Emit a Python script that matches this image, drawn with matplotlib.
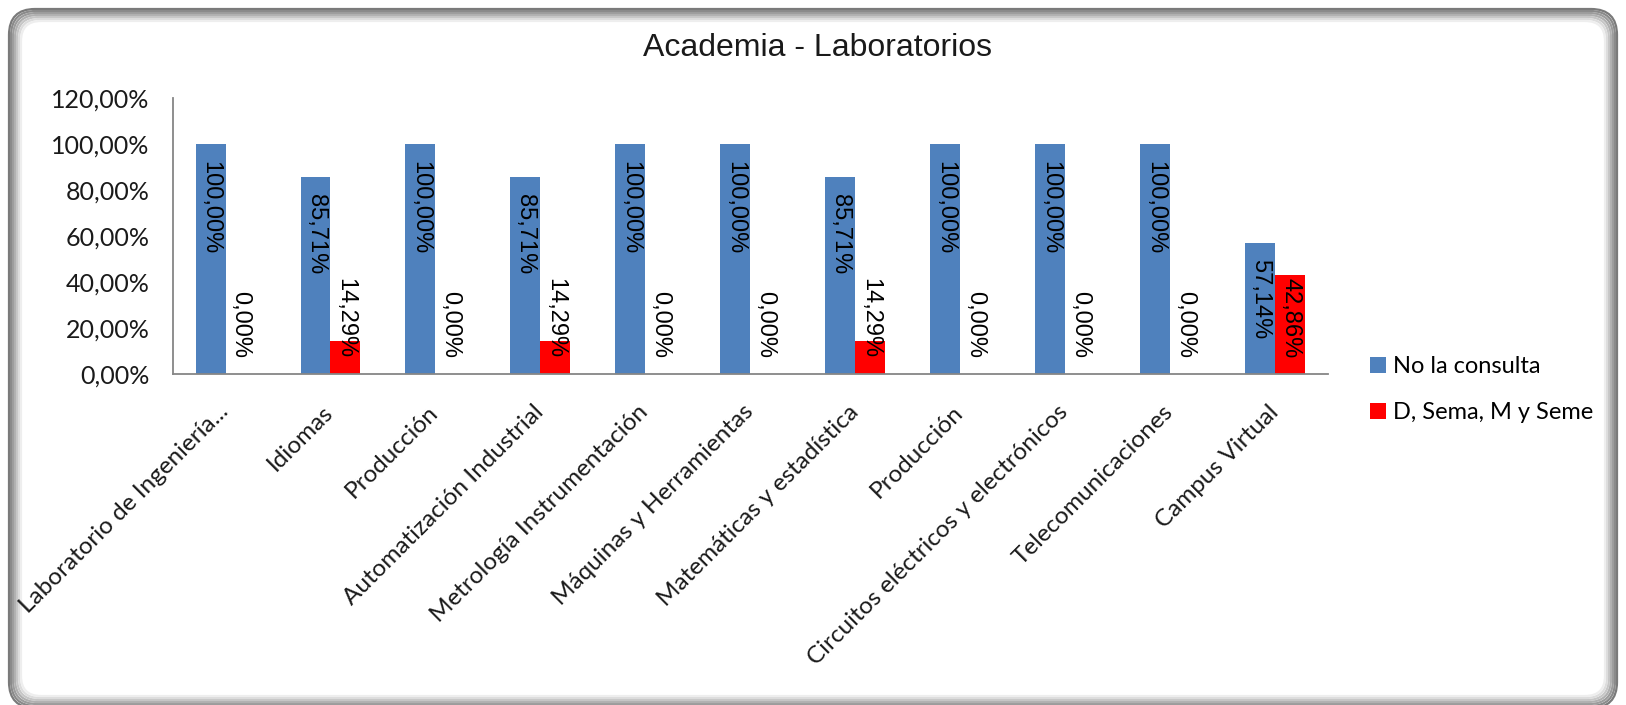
import matplotlib as mpl
import matplotlib.pyplot as plt
import numpy as np
from matplotlib.patches import FancyBboxPatch
from matplotlib.transforms import IdentityTransform, ScaledTranslation

categories = [
    "Laboratorio de Ingeniería...",
    "Idiomas",
    "Producción",
    "Automatización Industrial",
    "Metrología Instrumentación",
    "Máquinas y Herramientas",
    "Matemáticas y estadística",
    "Producción",
    "Circuitos eléctricos y electrónicos",
    "Telecomunicaciones",
    "Campus Virtual",
]
no_consulta = [100.00, 85.71, 100.00, 85.71, 100.00, 100.00, 85.71, 100.00, 100.00, 100.00, 57.14]
d_sema = [0.00, 14.29, 0.00, 14.29, 0.00, 0.00, 14.29, 0.00, 0.00, 0.00, 42.86]
series_names = ["No la consulta", "D, Sema, M y Seme"]
y_ticks = [0, 20, 40, 60, 80, 100, 120]

BLUE = "#4F81BD"
RED = "#FF0000"
GRID = "#868686"
TXT = "#1a1a1a"


def pct(v):
    return f"{v:.2f}".replace(".", ",") + "%"


def draw_frame(fig):
    # rounded grey "shadow" border, as in the Excel chart area
    W, H = fig.bbox.width, fig.bbox.height
    shades = ["#7a7a7a", "#8a8a8a", "#9c9c9c", "#b0b0b0", "#c6c6c6", "#dcdcdc", "#eeeeee"]
    for i, c in enumerate(shades):
        off = 9 + i * 2
        bot = -3 + i * 2
        p = FancyBboxPatch((off, bot), W - 2 * off, H - off - bot,
                           boxstyle=f"round,pad=0,rounding_size={26 - i}",
                           transform=IdentityTransform(), fill=False,
                           ec=c, lw=1.6, zorder=-5)
        fig.add_artist(p)


fig = plt.figure(figsize=(16.26, 7.05), dpi=100)
draw_frame(fig)
ax = fig.add_axes([0.1064, 0.4695, 0.8167 - 0.1064, 0.861 - 0.4695])

x = np.arange(len(categories))
w = 0.2857
b1 = ax.bar(x - w / 2, no_consulta, w, color=BLUE, label=series_names[0])
b2 = ax.bar(x + w / 2, d_sema, w, color=RED, label=series_names[1])

ax.set_xlim(-0.5, len(categories) - 0.5)
ax.set_ylim(0, 120)
ax.set_yticks(y_ticks)
ax.set_yticklabels([pct(v) for v in y_ticks], fontfamily="Lato", fontsize=18, color=TXT)
ax.set_xticks(x)
ax.set_xticklabels(categories, rotation=45, ha="right", va="top", rotation_mode="anchor",
                   fontfamily="Lato", fontsize=17.5, color=TXT)
ax.tick_params(axis="y", length=0, pad=17)
ax.tick_params(axis="x", length=0, pad=19.5)
shift = ScaledTranslation(-0.08, 0, fig.dpi_scale_trans)
for lbl in ax.get_xticklabels():
    lbl.set_transform(lbl.get_transform() + shift)
for s in ("top", "right"):
    ax.spines[s].set_visible(False)
for s in ("left", "bottom"):
    ax.spines[s].set_color(GRID)
    ax.spines[s].set_linewidth(1.3)

fig.text(0.503, 0.932, "Academia - Laboratorios", ha="center", va="center",
         fontfamily="Liberation Sans", fontsize=23, color=TXT)

# data labels, rotated, inside the top of the bar unless that would run
# past the baseline margin
fig.canvas.draw()
r = fig.canvas.get_renderer()
base = ax.transData.transform((0, 0))[1]
for xs, vals in ((x - w / 2, no_consulta), (x + w / 2, d_sema)):
    for xi, v in zip(xs, vals):
        t = ax.annotate(pct(v), (xi, v), xytext=(0, -12), textcoords="offset points",
                        rotation=270, ha="center", va="top", fontfamily="Liberation Sans",
                        fontsize=17, color="black")
        bb = t.get_window_extent(r)
        if bb.y0 < base + 16:
            t.xy = (xi, 0)
            t.set_position((0, 11.5))
            t.set_va("bottom")

fig.legend(handles=[b1, b2], labels=series_names, loc="center left",
           bbox_to_anchor=(0.8426, 0.4475), frameon=False, prop={"family": "Lato", "size": 17},
           handlelength=0.68, handleheight=0.68, handletextpad=0.3, labelspacing=1.05,
           borderpad=0, borderaxespad=0)

fig.savefig("out.png", dpi=100)
